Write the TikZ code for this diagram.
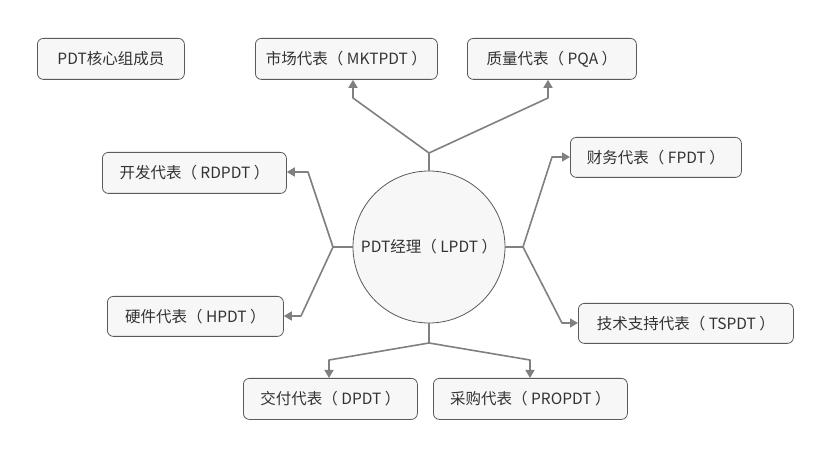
\documentclass[tikz,border=0pt]{standalone}
\usepackage{fontspec}
\setmainfont{Noto Sans CJK SC}
\usetikzlibrary{arrows.meta}
\definecolor{linegray}{HTML}{808080}
\definecolor{boxborder}{HTML}{5A5A5A}
\definecolor{boxfill}{HTML}{F7F7F7}
\definecolor{textcol}{HTML}{333333}
\begin{document}
\begin{tikzpicture}[x=1pt,y=-1pt,
  box/.style={draw=boxborder, fill=boxfill, rounded corners=6pt, line width=0.8pt,
    inner sep=0pt, anchor=north west, font=\fontsize{15.5}{18}\selectfont, text=textcol},
  conn/.style={draw=linegray, line width=1.6pt, line join=round,
    -{Triangle[length=8pt,width=9pt]}},
  stub/.style={draw=linegray, line width=1.6pt}]
\useasboundingbox (0,0) rectangle (831,457);
\fill[white] (0,0) rectangle (831,457);

\node[box, minimum width=147pt, minimum height=41pt] (core) at (37,38) {PDT核心组成员};
\node[box, minimum width=182pt, minimum height=41pt] (mkt) at (255,38) {市场代表（ MKTPDT ）};
\node[box, minimum width=169pt, minimum height=41pt] (pqa) at (467,38) {质量代表（ PQA ）};
\node[box, minimum width=184pt, minimum height=41pt] (rd) at (102,152) {开发代表（ RDPDT ）};
\node[box, minimum width=176pt, minimum height=40pt] (hp) at (107,296) {硬件代表（ HPDT ）};
\node[box, minimum width=171pt, minimum height=40pt] (fp) at (570,137) {财务代表（ FPDT ）};
\node[box, minimum width=215pt, minimum height=40pt] (ts) at (578,303) {技术支持代表（ TSPDT ）};
\node[box, minimum width=174pt, minimum height=41pt] (dp) at (243,378) {交付代表（ DPDT ）};
\node[box, minimum width=194pt, minimum height=41pt] (pro) at (433,378) {采购代表（ PROPDT ）};

\node[circle, draw=boxborder, fill=boxfill, line width=0.8pt, minimum size=152pt, inner sep=0pt,
  font=\fontsize{15.5}{18}\selectfont, text=textcol] (lp) at (429,247) {PDT经理（ LPDT ）};

\coordinate (jt) at (429,153);
\coordinate (jl) at (333,247);
\coordinate (jr) at (523,247);
\coordinate (jb) at (429,343);

\coordinate (bm) at (353,98);
\coordinate (bq) at (548,98);
\coordinate (br) at (308,172);
\coordinate (bh) at (301,316);
\coordinate (bf) at (552,157);
\coordinate (bt) at (562,323);
\coordinate (bd) at (329,360);
\coordinate (bp) at (530,360);

\draw[stub] (lp.north) -- (jt);
\draw[stub] (lp.west) -- (jl);
\draw[stub] (lp.east) -- (jr);
\draw[stub] (lp.south) -- (jb);

\draw[conn] (jt) -- (bm) -- (bm |- mkt.south);
\draw[conn] (jt) -- (bq) -- (bq |- pqa.south);
\draw[conn] (jl) -- (br) -- (br -| rd.east);
\draw[conn] (jl) -- (bh) -- (bh -| hp.east);
\draw[conn] (jr) -- (bf) -- (bf -| fp.west);
\draw[conn] (jr) -- (bt) -- (bt -| ts.west);
\draw[conn] (jb) -- (bd) -- (bd |- dp.north);
\draw[conn] (jb) -- (bp) -- (bp |- pro.north);
\end{tikzpicture}
\end{document}
